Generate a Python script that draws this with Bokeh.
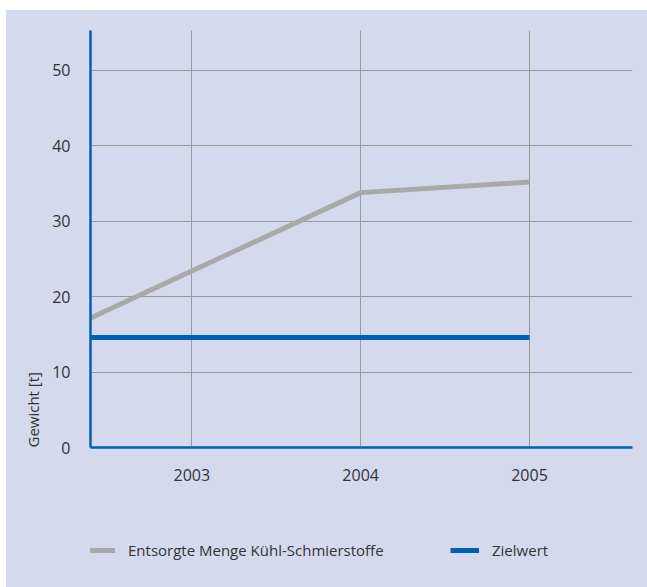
from bokeh.plotting import figure
from bokeh.layouts import column
from bokeh.models import Range1d, FixedTicker, Legend, LegendItem, Title
from bokeh.embed import file_html
from bokeh.resources import INLINE

# ---- data ----
years = [2002, 2003, 2004, 2005]
menge = [13.0, 23.4, 33.8, 35.2]          # Entsorgte Menge Kühl-Schmierstoffe [t]
zielwert = [14.6, 14.6, 14.6, 14.6]       # Zielwert [t]
x_ticks = [2003, 2004, 2005]
y_ticks = [0, 10, 20, 30, 40, 50]
series_names = ["Entsorgte Menge Kühl-Schmierstoffe", "Zielwert"]
y_label = "Gewicht [t]"

BG = "#d4d9ee"
BLUE = "#0060b0"
GREY = "#a9a9a9"
TXT = "#333333"
FONT = "Open Sans"

p = figure(width=641, height=480, output_backend="svg", toolbar_location=None,
           x_range=Range1d(2002.4, 2005.61), y_range=Range1d(0, 55.3),
           min_border_left=84, min_border_right=15, min_border_top=20, min_border_bottom=43)
p.background_fill_color = BG
p.border_fill_color = BG
p.outline_line_color = None

p.line(years, menge, line_color=GREY, line_width=5, line_cap="butt")
p.line(years, zielwert, line_color=BLUE, line_width=5, line_cap="butt")

for ax in (p.xaxis[0], p.yaxis[0]):
    ax.axis_line_color = BLUE
    ax.axis_line_width = 2.5
    ax.major_tick_line_color = None
    ax.minor_tick_line_color = None
    ax.major_label_text_font = FONT
    ax.major_label_text_font_size = "16px"
    ax.major_label_text_color = TXT
p.xaxis.ticker = FixedTicker(ticks=x_ticks)
p.yaxis.ticker = FixedTicker(ticks=y_ticks)
p.xaxis.major_label_standoff = 15
p.yaxis.major_label_standoff = 14

p.xgrid.ticker = FixedTicker(ticks=x_ticks)
p.ygrid.ticker = FixedTicker(ticks=y_ticks)
for g in (p.xgrid[0], p.ygrid[0]):
    g.grid_line_color = "#999999"
    g.grid_line_width = 1

p.add_layout(Title(text=y_label, align="left", text_font=FONT, text_font_size="15px",
                   text_font_style="normal", text_color=TXT, standoff=13), "left")

# ---- legend strip (its lines lie outside its view; only the legend shows) ----
q = figure(width=641, height=97, output_backend="svg", toolbar_location=None,
           x_range=Range1d(0, 1), y_range=Range1d(0, 1),
           x_axis_type=None, y_axis_type=None,
           min_border_left=0, min_border_right=0, min_border_top=0, min_border_bottom=0)
q.background_fill_color = BG
q.border_fill_color = BG
q.outline_line_color = None
q1 = q.line(years, menge, line_color=GREY, line_width=5, line_cap="butt")
q2 = q.line(years, zielwert, line_color=BLUE, line_width=5, line_cap="butt")

def mk_legend(label, r, loc):
    return Legend(items=[LegendItem(label=label, renderers=[r])], location=loc,
                  orientation="horizontal", background_fill_alpha=0, border_line_color=None,
                  padding=0, margin=0, glyph_width=29, glyph_height=16,
                  label_standoff=13, label_text_font=FONT, label_text_font_size="15px",
                  label_text_color=TXT)

q.add_layout(mk_legend(series_names[0], q1, (-4, 27)))
q.add_layout(mk_legend(series_names[1], q2, (360, 27)))

layout = column(p, q, spacing=0)
layout.margin = (10, 0, 0, 6)
layout.styles = {"background-color": BG}
open("out.html", "w").write(file_html(layout, INLINE))
